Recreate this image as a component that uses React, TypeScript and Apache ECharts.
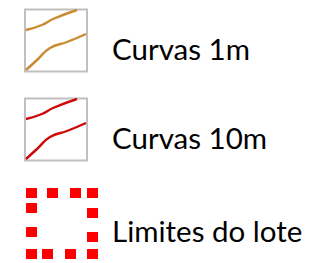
import React, { useEffect, useRef } from "react";
import * as echarts from "echarts";

const labels = ["Curvas 1m", "Curvas 10m", "Limites do lote"];
const lineColors = ["#c98a30", "#cc0a0a"];
const boundaryColor = "#ff0000";

const upperCurve = [[26, 30], [42, 25], [53, 19], [77, 10]];
const lowerCurve = [[26, 70], [37, 60], [50, 48], [67, 42], [86, 34]];
const rowOffsets = [0, 89];

const dashSquares = [
  [26, 188], [47, 188], [70, 188], [87, 188],
  [26, 203], [26, 227], [87, 208], [87, 232],
  [26, 249], [42, 249], [65, 249], [87, 249],
];

export default function App() {
  const ref = useRef<HTMLDivElement>(null);
  useEffect(() => {
    const chart = echarts.init(ref.current!, null, { renderer: "svg" });
    const elements: any[] = [];
    rowOffsets.forEach((dy, i) => {
      elements.push({
        type: "rect",
        shape: { x: 25, y: 9.5 + dy, width: 62, height: 62 },
        style: { fill: "#fff", stroke: "#c0c0c0", lineWidth: 2 },
      });
      [upperCurve, lowerCurve].forEach((pts) => {
        elements.push({
          type: "polyline",
          shape: { points: pts.map(([x, y]) => [x, y + dy]), smooth: 0.5 },
          style: { stroke: lineColors[i], lineWidth: 2.4, fill: null },
        });
      });
    });
    dashSquares.forEach(([x, y]) => {
      elements.push({
        type: "rect",
        shape: { x, y, width: 11, height: 10 },
        style: { fill: boundaryColor },
      });
    });
    const baselines = [59, 148, 241];
    labels.forEach((t, i) => {
      elements.push({
        type: "text",
        x: 112,
        y: baselines[i] + 4,
        style: {
          text: t,
          fill: "#000",
          font: "29.5px Lato",
          verticalAlign: "bottom",
          align: "left",
        },
      });
    });
    chart.setOption({
      animation: false,
      backgroundColor: "#fff",
      graphic: { elements },
    });
    return () => chart.dispose();
  }, []);
  return (
    <div
      ref={ref}
      style={{ position: "absolute", left: 0, top: 0, width: 328, height: 263 }}
    />
  );
}
